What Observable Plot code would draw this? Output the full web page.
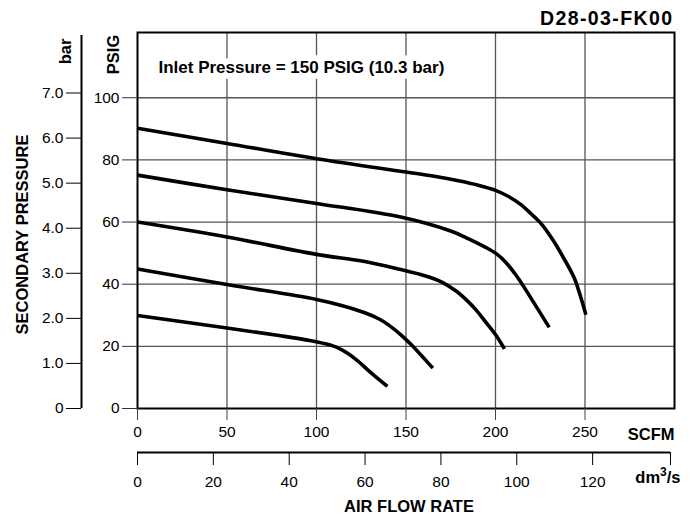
<!DOCTYPE html>
<html>
<head>
<meta charset="utf-8">
<script src="https://cdn.jsdelivr.net/npm/d3@7"></script>
<script src="https://cdn.jsdelivr.net/npm/@observablehq/plot@0.6"></script>
<style>
  html, body { margin: 0; padding: 0; background: white; }
</style>
</head>
<body>
<div id="chart"></div>
<script>
// ---- tick values ----
const scfmTicks = [0, 50, 100, 150, 200, 250];
const psigTicks = [0, 20, 40, 60, 80, 100];
const barTicks = [0, 1, 2, 3, 4, 5, 6, 7];
const dmTicks = [0, 20, 40, 60, 80, 100, 120];
const PSI_PER_BAR = 14.5038;
const SCFM_PER_DM = 2.11888;

// ---- texts ----
const modelCode = "D28-03-FK00";
const inletLabel = "Inlet Pressure = 150 PSIG (10.3 bar)";
const yTitle = "SECONDARY PRESSURE";
const xTitle = "AIR FLOW RATE";
const barUnit = "bar";
const psigUnit = "PSIG";
const scfmUnit = "SCFM";
const dmUnit = "dm3/s";

// ---- curves (flow in SCFM, pressure in PSIG) ----
const flow1 = [0, 50, 100, 150, 165, 180, 190, 200, 207, 214, 220, 225, 232, 238, 244, 247, 250.5];
const pres1 = [90.2, 85.3, 80.4, 76.1, 74.8, 73.2, 71.9, 70.2, 68.3, 65.7, 62.6, 59.8, 54.3, 48.5, 42, 37, 30.2];
const flow2 = [0, 50, 100, 147, 175, 185, 194, 200, 205, 212, 222, 230];
const pres2 = [75.1, 70.4, 66, 61.6, 57.1, 54.6, 52, 50, 47.5, 42.5, 33.5, 26.1];
const flow3 = [0, 50, 100, 127, 147, 160, 170, 178, 184, 189, 194, 200, 205];
const pres3 = [60, 55.2, 49.6, 47.3, 44.7, 42.8, 40.7, 37.8, 34.8, 31.8, 28.2, 23.8, 19.2];
const flow4 = [0, 50, 100, 115, 127, 135, 140, 147, 153, 159, 165];
const pres4 = [44.9, 39.9, 35.1, 33, 30.8, 28.8, 27, 23.8, 20.5, 16.8, 13];
const flow5 = [0, 50, 80, 95, 105, 112, 118, 123, 131, 139.6];
const pres5 = [29.9, 25.9, 23.4, 22, 20.8, 19.5, 17.5, 15.3, 11.2, 7.1];

const series = [
  ["s1", flow1, pres1], ["s2", flow2, pres2], ["s3", flow3, pres3],
  ["s4", flow4, pres4], ["s5", flow5, pres5]
];
const data = series.flatMap(([name, xs, ys]) => xs.map((x, i) => ({series: name, flow: x, pressure: ys[i]})));

const bold = {fontWeight: "bold", fill: "black"};

const chart = Plot.plot({
  width: 693,
  height: 518,
  marginLeft: 137,
  marginRight: 19,
  marginTop: 32,
  marginBottom: 110,
  x: {domain: [0, 300]},
  y: {domain: [0, 121]},
  style: {fontFamily: "'Liberation Sans', Arial, Helvetica, sans-serif", fontSize: "15.5px", color: "black", background: "white"},
  marks: [
    Plot.gridX(scfmTicks.filter(d => d > 0), {stroke: "#555", strokeOpacity: 1, strokeWidth: 1.3}),
    Plot.gridY(psigTicks.filter(d => d > 0), {stroke: "#555", strokeOpacity: 1, strokeWidth: 1.3}),
    Plot.text([inletLabel], {frameAnchor: "top-left", dx: 21, dy: 35, textAnchor: "start", lineAnchor: "middle",
      fontSize: 17, fontWeight: "bold", fill: "black", stroke: "white", strokeWidth: 12, paintOrder: "stroke"}),
    Plot.frame({stroke: "black", strokeWidth: 2}),
    Plot.line(data, {x: "flow", y: "pressure", z: "series", curve: "catmull-rom", stroke: "black", strokeWidth: 3.6, strokeLinecap: "butt"}),

    // PSIG axis
    Plot.axisY(psigTicks, {anchor: "left", tickSize: 15, tickPadding: 3, label: null, stroke: "#333"}),
    // bar axis (secondary)
    Plot.axisY(barTicks.map(b => b * PSI_PER_BAR), {anchor: "left", tickSize: 15, tickPadding: 3, dx: -56, label: null,
      tickFormat: v => { const b = Math.round(v / PSI_PER_BAR); return b === 0 ? "0" : b.toFixed(1); }}),
    Plot.ruleX([0], {y1: 0, y2: 120, dx: -56, stroke: "black", strokeWidth: 2}),

    // SCFM axis
    Plot.axisX(scfmTicks, {anchor: "bottom", tickSize: 12, tickPadding: 5, label: null, stroke: "#444"}),
    // dm3/s axis (secondary)
    Plot.axisX(dmTicks.map(d => d * SCFM_PER_DM), {anchor: "bottom", tickSize: 13, tickPadding: 10, dy: 44, label: null,
      tickFormat: v => String(Math.round(v / SCFM_PER_DM))}),
    Plot.axisX([300], {anchor: "bottom", tickSize: 13, dy: 44, dx: -4, label: null, tickFormat: () => ""}),
    Plot.ruleY([0], {x1: 0, x2: 300, dy: 44, insetRight: 4, stroke: "black", strokeWidth: 2}),

    // labels
    Plot.text([modelCode], {frameAnchor: "top-right", dx: -1, dy: -8, textAnchor: "end", lineAnchor: "bottom", fontSize: 19.5, ...bold}),
    Plot.text([barUnit], {frameAnchor: "top-left", dx: -67, dy: 19, rotate: -90, textAnchor: "middle", lineAnchor: "bottom", fontSize: 16.5, ...bold}),
    Plot.text([psigUnit], {frameAnchor: "top-left", dx: -19, dy: 22, rotate: -90, textAnchor: "middle", lineAnchor: "bottom", fontSize: 16.5, ...bold}),
    Plot.text([yTitle], {frameAnchor: "left", dx: -110, dy: 14, rotate: -90, textAnchor: "middle", lineAnchor: "bottom", fontSize: 16.5, ...bold}),
    Plot.text([scfmUnit], {frameAnchor: "bottom-right", dx: 0, dy: 31, textAnchor: "end", lineAnchor: "bottom", fontSize: 16.5, ...bold}),
    Plot.text([dmUnit], {frameAnchor: "bottom-right", dx: 6, dy: 74, textAnchor: "end", lineAnchor: "bottom", fontSize: 16.5, ...bold}),
    Plot.text([xTitle], {frameAnchor: "bottom", dx: 3, dy: 103, textAnchor: "middle", lineAnchor: "bottom", fontSize: 16.5, ...bold})
  ]
});

const allText = d3.select(chart).selectAll("text");
allText.filter(function () { return this.textContent === modelCode; }).style("letter-spacing", "1.4px");
// superscript 3 in dm3/s
allText.filter(function () { return this.textContent === dmUnit; }).each(function () {
  const t = d3.select(this);
  t.text(null);
  t.append("tspan").text("dm");
  t.append("tspan").attr("dy", -7).attr("font-size", 12).text("3");
  t.append("tspan").attr("dy", 7).text("/s");
});
document.getElementById("chart").appendChild(chart);
</script>
</body>
</html>
